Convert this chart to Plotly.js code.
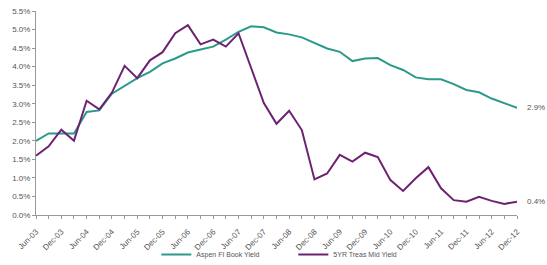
<!DOCTYPE html>
<html>
<head>
<meta charset="utf-8">
<script src="https://cdn.plot.ly/plotly-3.0.1.min.js"></script>
<style>html,body{margin:0;padding:0;background:#fff;}#chart{width:547px;height:265px;}</style>
</head>
<body>
<div id="chart"></div>
<script>
// Quarterly categories Jun-03 .. Dec-12
const quarters = ["Jun-03","Sep-03","Dec-03","Mar-04","Jun-04","Sep-04","Dec-04","Mar-05","Jun-05","Sep-05","Dec-05","Mar-06","Jun-06","Sep-06","Dec-06","Mar-07","Jun-07","Sep-07","Dec-07","Mar-08","Jun-08","Sep-08","Dec-08","Mar-09","Jun-09","Sep-09","Dec-09","Mar-10","Jun-10","Sep-10","Dec-10","Mar-11","Jun-11","Sep-11","Dec-11","Mar-12","Jun-12","Sep-12","Dec-12"];
const tickLabels = ["Jun-03","","Dec-03","","Jun-04","","Dec-04","","Jun-05","","Dec-05","","Jun-06","","Dec-06","","Jun-07","","Dec-07","","Jun-08","","Dec-08","","Jun-09","","Dec-09","","Jun-10","","Dec-10","","Jun-11","","Dec-11","","Jun-12","","Dec-12"];
const aspenBookYield = [2.0,2.2,2.2,2.2,2.78,2.82,3.27,3.48,3.69,3.86,4.09,4.22,4.38,4.46,4.54,4.73,4.94,5.09,5.06,4.92,4.87,4.79,4.64,4.49,4.40,4.15,4.22,4.23,4.04,3.91,3.71,3.66,3.66,3.53,3.37,3.31,3.14,3.01,2.89];
const treas5yMidYield = [1.6,1.85,2.3,2.0,3.08,2.85,3.3,4.02,3.69,4.17,4.39,4.9,5.12,4.6,4.73,4.54,4.9,3.95,3.02,2.46,2.81,2.29,0.96,1.12,1.62,1.44,1.68,1.56,0.94,0.65,0.99,1.29,0.72,0.40,0.36,0.49,0.38,0.30,0.36];
const seriesNames = ["Aspen FI Book Yield","5YR Treas Mid Yield"];
const endLabels = ["2.9%","0.4%"];

const font = {family: "Liberation Sans, Arial, sans-serif", size: 8, color: "#555"};
const data = [
  {x: quarters, y: aspenBookYield, type: "scatter", mode: "lines", name: seriesNames[0],
   line: {color: "#2b9a8b", width: 2}},
  {x: quarters, y: treas5yMidYield, type: "scatter", mode: "lines", name: seriesNames[1],
   line: {color: "#6c2271", width: 2}}
];
const layout = {
  width: 547, height: 265,
  margin: {l: 36, r: 30, t: 11, b: 50, autoexpand: false},
  paper_bgcolor: "#fff", plot_bgcolor: "#fff",
  font: font,
  showlegend: true,
  legend: {orientation: "h", x: 0.535, xanchor: "center", xref: "paper",
           y: 0.04, yref: "container", yanchor: "middle", bgcolor: "rgba(0,0,0,0)",
           font: {family: font.family, size: 7, color: "#555"}, itemwidth: 30,
           entrywidth: 92, entrywidthmode: "pixels", tracegroupgap: 0},
  xaxis: {type: "category", range: [0, 38], tickvals: quarters, ticktext: tickLabels, automargin: false,
          tickangle: -45, ticks: "outside", ticklen: 3, tickcolor: "#999", ticklabelstandoff: 5,
          showline: true, linecolor: "#999", linewidth: 1, showgrid: false, zeroline: false,
          tickfont: {family: font.family, size: 8, color: "#555"}},
  yaxis: {range: [0, 5.5], dtick: 0.5, tick0: 0, tickformat: ".1f", ticksuffix: "%", automargin: false,
          ticks: "outside", ticklen: 3, tickcolor: "#999",
          showline: true, linecolor: "#999", linewidth: 1, showgrid: false, zeroline: false,
          tickfont: {family: font.family, size: 8, color: "#555"}},
  annotations: [
    {x: quarters[quarters.length-1], y: aspenBookYield[aspenBookYield.length-1], text: endLabels[0],
     xref: "x", yref: "y", xanchor: "left", yanchor: "middle", xshift: 8, showarrow: false,
     font: {family: font.family, size: 8, color: "#555"}},
    {x: quarters[quarters.length-1], y: treas5yMidYield[treas5yMidYield.length-1], text: endLabels[1],
     xref: "x", yref: "y", xanchor: "left", yanchor: "middle", xshift: 8, showarrow: false,
     font: {family: font.family, size: 8, color: "#555"}}
  ]
};
Plotly.newPlot("chart", data, layout, {displayModeBar: false, staticPlot: true});
</script>
</body>
</html>
